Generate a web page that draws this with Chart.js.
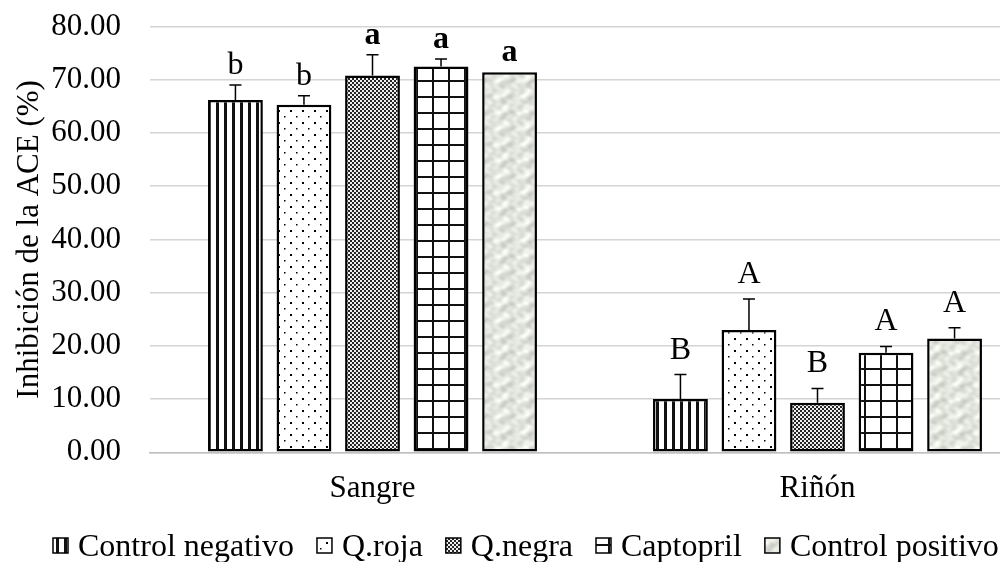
<!DOCTYPE html>
<html lang="es">
<head>
<meta charset="utf-8">
<script src="https://cdn.jsdelivr.net/npm/chart.js"></script>
<style>
    html, body { margin: 0; padding: 0; background: #fff; overflow: hidden; }
    .chart-box { position: relative; width: 1050px; height: 562px; }
</style>
</head>
<body>
<div class="chart-box"><canvas id="aceChart"></canvas></div>
<script>
    // data
    const categories = ['Sangre', 'Riñón'];
    const seriesNames = ['Control negativo', 'Q.roja', 'Q.negra', 'Captopril', 'Control positivo'];

    const controlNegativo = [66.2, 10.0];
    const qRoja = [65.3, 23.0];
    const qNegra = [70.8, 9.3];
    const captopril = [72.5, 18.7];
    const controlPositivo = [71.4, 21.4];

    const controlNegativoErr = [2.8, 4.6];
    const qRojaErr = [1.7, 5.8];
    const qNegraErr = [3.9, 2.7];
    const captoprilErr = [1.4, 1.2];
    const controlPositivoErr = [0, 2.0];

    const controlNegativoLetters = ['b', 'B'];
    const qRojaLetters = ['b', 'A'];
    const qNegraLetters = ['a', 'B'];
    const captoprilLetters = ['a', 'A'];
    const controlPositivoLetters = ['a', 'A'];

    const FONT = '"Liberation Serif", "Times New Roman", serif';

    // fill patterns (Excel-like)
    function makePattern(w, h, draw) {
        const c = document.createElement('canvas');
        c.width = w; c.height = h;
        const g = c.getContext('2d');
        draw(g, w, h);
        return g.createPattern(c, 'repeat');
    }

    const stripes = makePattern(8, 8, (g) => {
        g.fillStyle = '#fff'; g.fillRect(0, 0, 8, 8);
        g.fillStyle = '#111'; g.fillRect(0, 0, 3, 8);
    });
    const dots = makePattern(12, 12, (g) => {
        g.fillStyle = '#fff'; g.fillRect(0, 0, 12, 12);
        g.fillStyle = '#000';
        g.fillRect(2, 2, 2, 2);
        g.fillRect(8, 8, 1.5, 1.5);
    });
    const mesh = makePattern(4, 4, (g) => {
        g.fillStyle = '#262626'; g.fillRect(0, 0, 4, 4);
        g.fillStyle = '#eeeeee';
        g.fillRect(0, 0, 2, 2);
        g.fillRect(2, 2, 2, 2);
    });
    const grid = makePattern(16, 16, (g) => {
        g.fillStyle = '#fff'; g.fillRect(0, 0, 16, 16);
        g.fillStyle = '#111';
        g.fillRect(0, 0, 2, 16);
        g.fillRect(0, 0, 16, 2);
    });
    const marble = makePattern(48, 48, (g) => {
        const img = g.createImageData(48, 48);
        const t = Math.PI * 2 / 48;
        for (let y = 0; y < 48; y++) {
            for (let x = 0; x < 48; x++) {
                const v = Math.sin(x * t * 2 + 1.8 * Math.sin(y * t * 3))
                        + Math.sin(y * t * 3 + 1.6 * Math.sin(x * t * 2))
                        + 0.6 * Math.sin(x * t * 5 + 1.2 * Math.cos(y * t * 4));
                const k = 226 - v * 10;
                const i = (y * 48 + x) * 4;
                img.data[i] = k; img.data[i + 1] = k + 3; img.data[i + 2] = k - 4; img.data[i + 3] = 255;
            }
        }
        g.putImageData(img, 0, 0);
    });

    const seriesValues = [controlNegativo, qRoja, qNegra, captopril, controlPositivo];
    const seriesErrors = [controlNegativoErr, qRojaErr, qNegraErr, captoprilErr, controlPositivoErr];
    const seriesLetters = [controlNegativoLetters, qRojaLetters, qNegraLetters, captoprilLetters, controlPositivoLetters];
    const fills = [stripes, dots, mesh, grid, marble];

    // upper error bars + significance letters
    const letterGap = [11, 16];  // px between error cap and letter, per category
    const errorBars = {
        id: 'errorBars',
        afterDatasetsDraw(chart) {
            const ctx = chart.ctx;
            const y = chart.scales.y;
            ctx.save();
            chart.data.datasets.forEach((ds, i) => {
                const meta = chart.getDatasetMeta(i);
                meta.data.forEach((bar, j) => {
                    const v = ds.data[j];
                    const e = seriesErrors[i][j];
                    const top = y.getPixelForValue(v + e);
                    if (e > 0) {
                        ctx.strokeStyle = '#000';
                        ctx.lineWidth = 1.5;
                        ctx.beginPath();
                        ctx.moveTo(bar.x, bar.y);
                        ctx.lineTo(bar.x, top);
                        ctx.moveTo(bar.x - 6, top);
                        ctx.lineTo(bar.x + 6, top);
                        ctx.stroke();
                    }
                    const letter = seriesLetters[i][j];
                    ctx.fillStyle = '#000';
                    ctx.textAlign = 'center';
                    ctx.textBaseline = 'alphabetic';
                    ctx.font = (letter === 'a' ? 'bold ' : '') + '32px ' + FONT;
                    ctx.fillText(letter, bar.x, top - letterGap[j]);
                });
            });
            ctx.restore();
        }
    };

    // legend drawn along the bottom, icon right next to its text
    const bottomLegend = {
        id: 'bottomLegend',
        afterDraw(chart) {
            const ctx = chart.ctx;
            ctx.save();
            ctx.font = '32px ' + FONT;
            ctx.textAlign = 'left';
            ctx.textBaseline = 'alphabetic';
            let x = 53;
            chart.data.datasets.forEach((ds) => {
                ctx.fillStyle = ds.backgroundColor;
                ctx.fillRect(x, 538, 15, 15);
                ctx.strokeStyle = '#000';
                ctx.lineWidth = 1.5;
                ctx.strokeRect(x, 538, 15, 15);
                x += 25;
                ctx.fillStyle = '#000';
                ctx.fillText(ds.label, x, 556);
                x += ctx.measureText(ds.label).width + 23;
            });
            ctx.restore();
        }
    };

    new Chart(document.getElementById('aceChart'), {
        type: 'bar',
        data: {
            labels: categories,
            datasets: seriesNames.map((name, i) => ({
                label: name,
                data: seriesValues[i],
                backgroundColor: fills[i],
                borderColor: '#000',
                borderWidth: 2.5,
                borderSkipped: false,
                categoryPercentage: 0.77,
                barPercentage: 0.8
            }))
        },
        options: {
            responsive: true,
            maintainAspectRatio: false,
            animation: false,
            layout: { padding: { top: 26.5, right: 10, left: 0, bottom: 45.5 } },
            plugins: {
                tooltip: { enabled: false },
                legend: { display: false }
            },
            scales: {
                x: {
                    grid: { display: false },
                    border: { display: true, color: '#bfbfbf', width: 1.5 },
                    ticks: { color: '#000', font: { family: FONT, size: 31 }, padding: 9.5 }
                },
                y: {
                    min: 0,
                    max: 80,
                    afterFit(scale) {
                        scale.width = 150;
                        scale.paddingTop = 0;
                        scale.paddingBottom = 0;
                    },
                    grid: { color: '#d4d4d4', lineWidth: 1.5, drawTicks: false },
                    border: { display: false },
                    ticks: {
                        stepSize: 10,
                        padding: 29,
                        color: '#000',
                        font: { family: FONT, size: 31 },
                        callback: (v) => Number(v).toFixed(2)
                    },
                    title: {
                        display: true,
                        text: 'Inhibición de la ACE (%)',
                        color: '#000',
                        font: { family: FONT, size: 31 },
                        padding: { top: 11, bottom: 0 }
                    }
                }
            }
        },
        plugins: [errorBars, bottomLegend]
    });
</script>
</body>
</html>
